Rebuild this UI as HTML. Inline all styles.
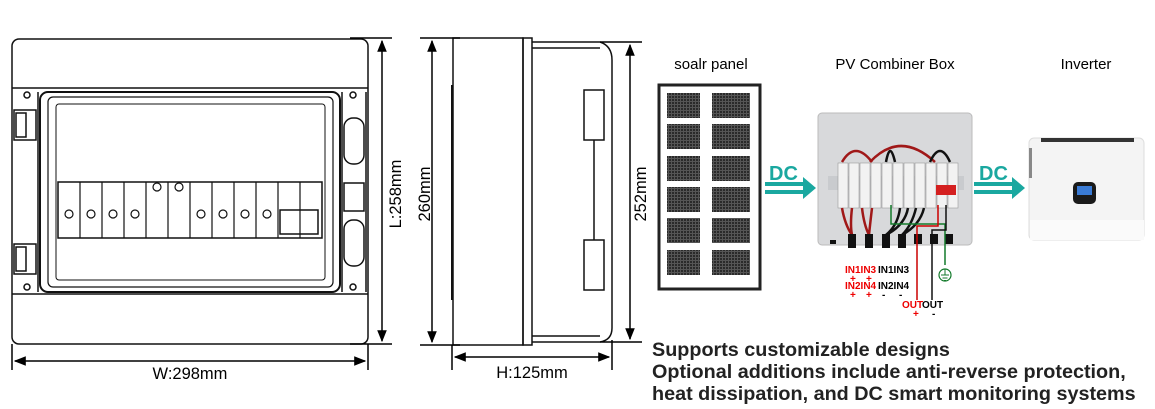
<!DOCTYPE html>
<html><head><meta charset="utf-8"><style>
html,body{margin:0;padding:0;background:#fff;}
svg{display:block;font-family:"Liberation Sans",Arial,sans-serif;}
</style></head><body>
<svg width="1155" height="409" viewBox="0 0 1155 409" xmlns="http://www.w3.org/2000/svg">
<defs>
<marker id="ah" viewBox="0 0 10 10" refX="9" refY="5" markerWidth="8" markerHeight="8" orient="auto-start-reverse"><path d="M0,1 L10,5 L0,9 z" fill="#000"/></marker>
<pattern id="cell" width="3" height="3" patternUnits="userSpaceOnUse"><rect width="3" height="3" fill="#555"/><rect width="2" height="2" fill="#2a2a2a"/></pattern>
</defs>

<!-- FRONT VIEW -->
<g fill="none" stroke="#111" stroke-width="1.5">
<rect x="12" y="39" width="356" height="305" rx="7" fill="#fff"/>
<line x1="12" y1="88" x2="368" y2="88"/>
<line x1="12" y1="294" x2="368" y2="294"/>
<rect x="40" y="92" width="300" height="200" rx="8" stroke-width="2"/>
<rect x="48" y="97" width="285" height="190" rx="5" stroke-width="1.2"/>
<rect x="56" y="104" width="269" height="176" rx="3" stroke-width="1"/>
<rect x="58" y="182" width="264" height="56" stroke-width="1.5"/>
<rect x="14" y="110" width="22" height="30"/><rect x="16" y="113" width="10" height="24"/>
<rect x="14" y="244" width="22" height="30"/><rect x="16" y="247" width="10" height="24"/>
<line x1="38" y1="92" x2="38" y2="292"/>
<line x1="342" y1="92" x2="342" y2="292"/><line x1="366" y1="92" x2="366" y2="292"/>
<rect x="344" y="118" width="20" height="46" rx="9"/><rect x="344" y="220" width="20" height="46" rx="9"/>
<rect x="344" y="183" width="20" height="28"/>
<circle cx="27" cy="95" r="3"/><circle cx="27" cy="287" r="3"/><circle cx="353" cy="95" r="3"/><circle cx="353" cy="287" r="3"/>
</g>
<g stroke="#111" stroke-width="1.2" fill="none">
<line x1="80" y1="182" x2="80" y2="238"/><line x1="102" y1="182" x2="102" y2="238"/><line x1="124" y1="182" x2="124" y2="238"/><line x1="146" y1="182" x2="146" y2="238"/><line x1="168" y1="182" x2="168" y2="238"/><line x1="190" y1="182" x2="190" y2="238"/><line x1="212" y1="182" x2="212" y2="238"/><line x1="234" y1="182" x2="234" y2="238"/><line x1="256" y1="182" x2="256" y2="238"/><line x1="278" y1="182" x2="278" y2="238"/><line x1="300" y1="182" x2="300" y2="238"/>
<circle cx="69" cy="214" r="4"/><circle cx="91" cy="214" r="4"/><circle cx="113" cy="214" r="4"/><circle cx="135" cy="214" r="4"/>
<circle cx="157" cy="187" r="4"/><circle cx="179" cy="187" r="4"/>
<circle cx="201" cy="214" r="4"/><circle cx="223" cy="214" r="4"/><circle cx="245" cy="214" r="4"/><circle cx="267" cy="214" r="4"/>
<rect x="280" y="210" width="38" height="24" stroke-width="1.5"/>
</g>
<g stroke="#000" stroke-width="1.5">
<line x1="12" y1="344" x2="12" y2="370"/><line x1="368" y1="344" x2="368" y2="370"/>
<line x1="15" y1="361" x2="365" y2="361" marker-start="url(#ah)" marker-end="url(#ah)"/>
<line x1="350" y1="38" x2="392" y2="38"/><line x1="350" y1="344" x2="392" y2="344"/>
<line x1="382" y1="41" x2="382" y2="341" marker-start="url(#ah)" marker-end="url(#ah)"/>
</g>
<text x="190" y="379" font-size="16.5" text-anchor="middle">W:298mm</text>
<text transform="translate(401,194) rotate(-90)" font-size="16.5" text-anchor="middle">L:258mm</text>

<!-- SIDE VIEW -->
<g fill="none" stroke="#111" stroke-width="1.5">
<rect x="453" y="38" width="70" height="307" fill="#fff"/>
<rect x="523" y="38" width="9" height="307"/>
<path d="M532,42 L600,42 Q612,46 612,60 L612,328 Q612,340 600,342 L532,342"/>
<line x1="532" y1="48" x2="600" y2="48"/><line x1="532" y1="336" x2="600" y2="336"/>
<line x1="452" y1="85" x2="452" y2="300" stroke-width="2"/>
<rect x="584" y="90" width="20" height="50"/><rect x="584" y="240" width="20" height="50"/>
<line x1="594" y1="140" x2="594" y2="240"/>
</g>
<g stroke="#000" stroke-width="1.5">
<line x1="420" y1="38" x2="460" y2="38"/><line x1="420" y1="345" x2="460" y2="345"/>
<line x1="432" y1="41" x2="432" y2="342" marker-start="url(#ah)" marker-end="url(#ah)"/>
<line x1="600" y1="42" x2="642" y2="42"/><line x1="600" y1="342" x2="642" y2="342"/>
<line x1="630" y1="45" x2="630" y2="339" marker-start="url(#ah)" marker-end="url(#ah)"/>
<line x1="452" y1="345" x2="452" y2="370"/><line x1="612" y1="340" x2="612" y2="370"/>
<line x1="455" y1="357" x2="609" y2="357" marker-start="url(#ah)" marker-end="url(#ah)"/>
</g>
<text transform="translate(430,194) rotate(-90)" font-size="16.5" text-anchor="middle">260mm</text>
<text transform="translate(646,194) rotate(-90)" font-size="16.5" text-anchor="middle">252mm</text>
<text x="532" y="378" font-size="16.5" text-anchor="middle">H:125mm</text>

<!-- TITLES -->
<text x="711" y="69" font-size="15" text-anchor="middle">soalr panel</text>
<text x="895" y="69" font-size="15" text-anchor="middle">PV Combiner Box</text>
<text x="1086" y="69" font-size="15" text-anchor="middle">Inverter</text>

<!-- SOLAR PANEL -->
<rect x="659" y="85" width="101" height="204" fill="#fff" stroke="#222" stroke-width="3"/>
<g fill="url(#cell)">
<rect x="667" y="93" width="33" height="25"/><rect x="712" y="93" width="38" height="25"/>
<rect x="667" y="124" width="33" height="25"/><rect x="712" y="124" width="38" height="25"/>
<rect x="667" y="156" width="33" height="25"/><rect x="712" y="156" width="38" height="25"/>
<rect x="667" y="187" width="33" height="25"/><rect x="712" y="187" width="38" height="25"/>
<rect x="667" y="218" width="33" height="25"/><rect x="712" y="218" width="38" height="25"/>
<rect x="667" y="250" width="33" height="25"/><rect x="712" y="250" width="38" height="25"/>
</g>

<!-- DC ARROWS -->
<g fill="#1aa8a0">
<text x="769" y="180" font-size="20" font-weight="bold">DC</text>
<rect x="765" y="182" width="40" height="4"/><rect x="765" y="190" width="40" height="4"/>
<path d="M803,177 L816,188 L803,199 z"/>
<text x="979" y="180" font-size="20" font-weight="bold">DC</text>
<rect x="974" y="182" width="40" height="4"/><rect x="974" y="190" width="40" height="4"/>
<path d="M1012,177 L1025,188 L1012,199 z"/>
</g>

<!-- COMBINER BOX -->
<rect x="818" y="113" width="154" height="132" rx="4" fill="#d8d9db" stroke="#bbb"/>
<rect x="828" y="176" width="136" height="14" fill="#c9cbce"/>
<g fill="#f2f2f2" stroke="#999" stroke-width="0.6">
<rect x="838" y="163" width="10" height="45"/><rect x="849" y="163" width="10" height="45"/><rect x="860" y="163" width="10" height="45"/><rect x="871" y="163" width="10" height="45"/><rect x="882" y="163" width="10" height="45"/><rect x="893" y="163" width="10" height="45"/><rect x="904" y="163" width="10" height="45"/><rect x="915" y="163" width="10" height="45"/><rect x="926" y="163" width="10" height="45"/><rect x="937" y="163" width="10" height="45"/><rect x="948" y="163" width="10" height="45"/>
</g>
<rect x="936" y="185" width="20" height="10" fill="#d42020"/>
<g fill="none" stroke-width="2.5">
<path d="M842,162 Q855,140 872,162" stroke="#a01818"/>
<path d="M870,162 Q900,130 935,162" stroke="#a01818"/>
<path d="M886,162 Q890,140 895,162" stroke="#111"/>
<path d="M930,162 Q940,140 950,162" stroke="#111"/>
<path d="M842,208 Q845,225 852,235 M852,208 Q850,225 852,235 M862,208 Q864,225 869,235 M872,208 Q870,225 869,235" stroke="#a01818"/>
<path d="M900,208 Q898,225 886,235 M908,208 Q905,225 886,235 M916,208 Q912,225 902,235 M924,208 Q920,225 902,235" stroke="#111"/>
</g>
<g fill="#111">
<rect x="848" y="234" width="8" height="14"/><rect x="865" y="234" width="8" height="14"/>
<rect x="882" y="234" width="8" height="14"/><rect x="898" y="234" width="8" height="14"/>
<rect x="914" y="234" width="8" height="10"/><rect x="930" y="234" width="8" height="10"/><rect x="945" y="234" width="8" height="10"/><rect x="830" y="240" width="6" height="4"/>
</g>
<g fill="none" stroke-width="1.5">
<path d="M891,205 L891,224 L945,224 L945,265" stroke="#137a2b"/>
<path d="M938,205 L938,226 L917,226 L917,300" stroke="#c00"/>
<path d="M946,205 L946,230 L932,230 L932,300" stroke="#111"/>
</g>
<circle cx="945" cy="275" r="6" fill="none" stroke="#137a2b" stroke-width="1.2"/>
<path d="M941,275 h8 M942.5,278 h5 M944,280.5 h2 M945,269 v6" stroke="#137a2b" stroke-width="1"/>
<g font-size="10" font-weight="bold">
<text x="845" y="273" fill="#e00">IN1IN3</text>
<text x="878" y="273" fill="#000">IN1IN3</text>
<text x="850" y="282" fill="#e00">+</text><text x="866" y="282" fill="#e00">+</text>
<text x="845" y="289" fill="#e00">IN2IN4</text>
<text x="878" y="289" fill="#000">IN2IN4</text>
<text x="850" y="298" fill="#e00">+</text><text x="866" y="298" fill="#e00">+</text>
<text x="882" y="298">-</text><text x="899" y="298">-</text>
<text x="902" y="308" fill="#e00">OUT</text><text x="922" y="308">OUT</text>
<text x="913" y="317" fill="#e00">+</text><text x="932" y="317">-</text>
</g>

<!-- INVERTER -->
<rect x="1029" y="138" width="115" height="102" rx="5" fill="#f4f4f4" stroke="#ddd"/>
<rect x="1041" y="138" width="93" height="4" fill="#333"/>
<rect x="1029" y="148" width="3" height="30" fill="#888"/>
<rect x="1030" y="220" width="114" height="20" fill="#fafafa"/>
<rect x="1073" y="182" width="23" height="22" rx="5" fill="#1a1a1a"/>
<rect x="1077" y="186" width="15" height="9" fill="#3a7bd5"/>

<!-- TEXT -->
<g font-size="19.8" font-weight="bold" fill="#222">
<text x="652" y="356">Supports customizable designs</text>
<text x="652" y="378">Optional additions include anti-reverse protection,</text>
<text x="652" y="400">heat dissipation, and DC smart monitoring systems</text>
</g>
</svg>
</body></html>
